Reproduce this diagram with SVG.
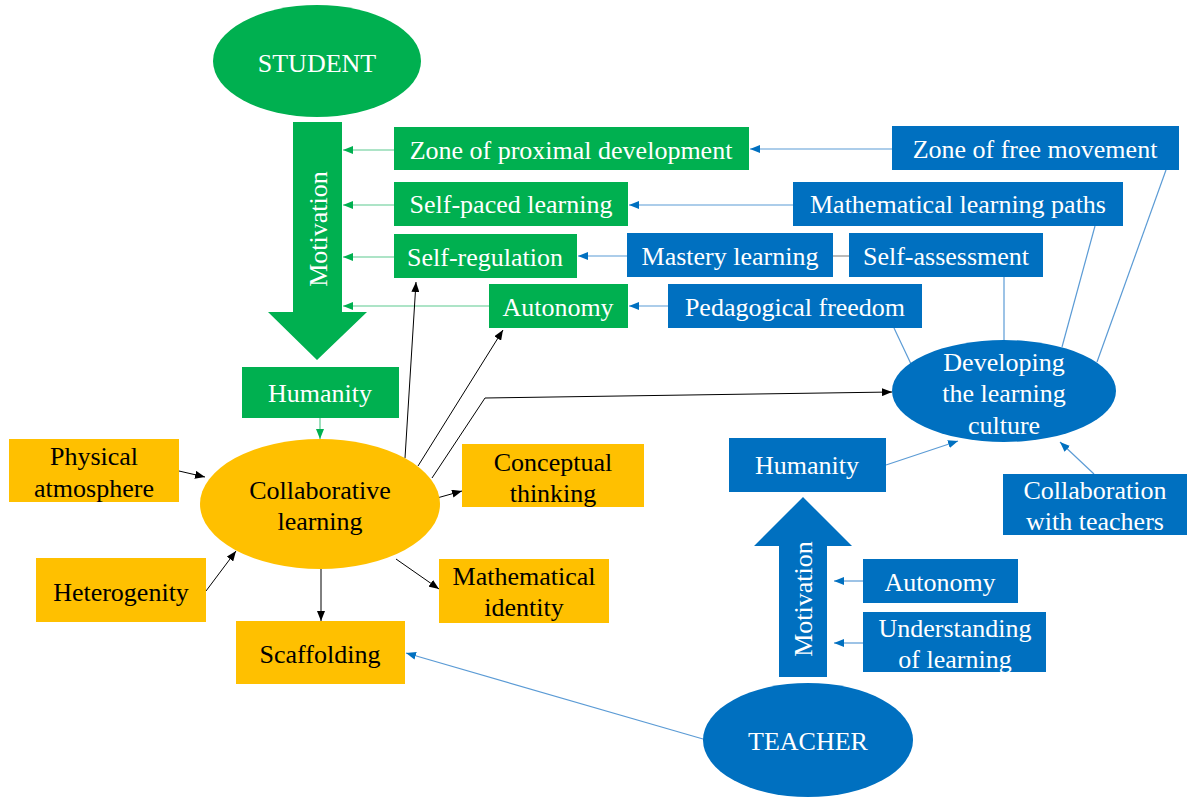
<svg xmlns="http://www.w3.org/2000/svg" width="1200" height="798" viewBox="0 0 1200 798">
<defs>
<style>
text{font-family:"Liberation Serif","Times New Roman",serif;font-size:26px;text-anchor:middle}
.w{fill:#fff}
.k{fill:#000}
.g{fill:#00b050}
.b{fill:#0070c0}
.o{fill:#ffc000}
.lk{stroke:#000;stroke-width:1;fill:none}
.lb{stroke:#5b9bd5;stroke-width:1.2;fill:none}
.lg{stroke:#5cc98f;stroke-width:1.2;fill:none}
.lgr{stroke:#8c8c8c;stroke-width:1.2;fill:none}
</style>
<marker id="ak" markerWidth="10" markerHeight="8" refX="10" refY="4" orient="auto" markerUnits="userSpaceOnUse"><path d="M0,0L10,4L0,8z" fill="#000"/></marker>
<marker id="ab" markerWidth="10" markerHeight="8" refX="10" refY="4" orient="auto" markerUnits="userSpaceOnUse"><path d="M0,0L10,4L0,8z" fill="#0070c0"/></marker>
<marker id="ag" markerWidth="10" markerHeight="8" refX="10" refY="4" orient="auto" markerUnits="userSpaceOnUse"><path d="M0,0L10,4L0,8z" fill="#00b050"/></marker>
</defs>
<rect width="1200" height="798" fill="#fff"/>

<g id="connectors">
<line class="lg" x1="394" y1="150" x2="343" y2="150" marker-end="url(#ag)"/>
<line class="lg" x1="394" y1="205" x2="343" y2="205" marker-end="url(#ag)"/>
<line class="lg" x1="394" y1="257" x2="343" y2="257" marker-end="url(#ag)"/>
<line class="lg" x1="489" y1="306" x2="343" y2="306" marker-end="url(#ag)"/>
<line class="lg" x1="320" y1="418" x2="320" y2="439" marker-end="url(#ag)"/>
<line class="lb" x1="892" y1="149" x2="750" y2="149" marker-end="url(#ab)"/>
<line class="lb" x1="793" y1="205" x2="629" y2="205" marker-end="url(#ab)"/>
<line class="lb" x1="627" y1="256" x2="578" y2="256" marker-end="url(#ab)"/>
<line class="lgr" x1="833" y1="256" x2="849" y2="256"/>
<line class="lb" x1="668" y1="306" x2="629" y2="306" marker-end="url(#ab)"/>
<line class="lb" x1="894" y1="328" x2="911" y2="364"/>
<line class="lb" x1="1004" y1="277" x2="1004" y2="341"/>
<line class="lb" x1="1095" y1="226" x2="1062" y2="347"/>
<line class="lb" x1="1166" y1="170" x2="1097" y2="362"/>
<line class="lb" x1="886" y1="465" x2="958" y2="441" marker-end="url(#ab)"/>
<line class="lb" x1="1094" y1="474" x2="1060" y2="442" marker-end="url(#ab)"/>
<line class="lb" x1="863" y1="581" x2="834" y2="581" marker-end="url(#ab)"/>
<line class="lb" x1="863" y1="643" x2="834" y2="643" marker-end="url(#ab)"/>
<line class="lb" x1="703" y1="739" x2="406" y2="653" marker-end="url(#ab)"/>
<line class="lk" x1="179" y1="471" x2="205" y2="477" marker-end="url(#ak)"/>
<line class="lk" x1="206" y1="591" x2="236" y2="551" marker-end="url(#ak)"/>
<line class="lk" x1="321" y1="569" x2="321" y2="621" marker-end="url(#ak)"/>
<line class="lk" x1="396" y1="559" x2="439" y2="589" marker-end="url(#ak)"/>
<line class="lk" x1="437" y1="498" x2="462" y2="491" marker-end="url(#ak)"/>
<line class="lk" x1="405" y1="458" x2="416" y2="282" marker-end="url(#ak)"/>
<line class="lk" x1="418" y1="466" x2="503" y2="330" marker-end="url(#ak)"/>
<polyline class="lk" points="432,478 485,398 892,392" marker-end="url(#ak)"/>
</g>

<g id="student"><ellipse class="g" cx="317" cy="61" rx="104" ry="56"/><text class="w" x="317" y="72">STUDENT</text></g>
<g id="student-arrow"><polygon class="g" points="293,122 342,122 342,312 367,312 317,360 268,312 293,312"/><text class="w" transform="translate(318,229) rotate(-90)" x="0" y="9">Motivation</text></g>
<g id="zpd"><rect class="g" x="394" y="127" width="355" height="43"/><text class="w" x="571" y="159">Zone of proximal development</text></g>
<g id="self-paced"><rect class="g" x="394" y="182" width="234" height="44"/><text class="w" x="511" y="213">Self-paced learning</text></g>
<g id="self-regulation"><rect class="g" x="394" y="234" width="183" height="44"/><text class="w" x="485" y="266">Self-regulation</text></g>
<g id="autonomy-s"><rect class="g" x="489" y="284" width="139" height="44"/><text class="w" x="558" y="316">Autonomy</text></g>
<g id="humanity-s"><rect class="g" x="242" y="367" width="157" height="51"/><text class="w" x="320" y="402">Humanity</text></g>

<g id="zfm"><rect class="b" x="892" y="126" width="287" height="44"/><text class="w" x="1035" y="158">Zone of free movement</text></g>
<g id="mlp"><rect class="b" x="793" y="182" width="330" height="44"/><text class="w" x="958" y="213">Mathematical learning paths</text></g>
<g id="mastery"><rect class="b" x="627" y="233" width="206" height="44"/><text class="w" x="730" y="265">Mastery learning</text></g>
<g id="self-assessment"><rect class="b" x="849" y="233" width="194" height="44"/><text class="w" x="946" y="265">Self-assessment</text></g>
<g id="pedagogical"><rect class="b" x="668" y="284" width="254" height="44"/><text class="w" x="795" y="316">Pedagogical freedom</text></g>
<g id="developing"><ellipse class="b" cx="1004" cy="391" rx="112" ry="51"/><text class="w" x="1004" y="371">Developing</text><text class="w" x="1004" y="402">the learning</text><text class="w" x="1004" y="434">culture</text></g>
<g id="humanity-t"><rect class="b" x="729" y="438" width="157" height="54"/><text class="w" x="807" y="474">Humanity</text></g>
<g id="collab-teachers"><rect class="b" x="1003" y="474" width="184" height="61"/><text class="w" x="1095" y="499">Collaboration</text><text class="w" x="1095" y="530">with teachers</text></g>
<g id="teacher-arrow"><polygon class="b" points="779,677 827,677 827,546 852,546 803,497 754,546 779,546"/><text class="w" transform="translate(803,599) rotate(-90)" x="0" y="9">Motivation</text></g>
<g id="autonomy-t"><rect class="b" x="863" y="559" width="155" height="44"/><text class="w" x="940" y="591">Autonomy</text></g>
<g id="understanding"><rect class="b" x="863" y="612" width="183" height="60"/><text class="w" x="955" y="637">Understanding</text><text class="w" x="955" y="668">of learning</text></g>
<g id="teacher"><ellipse class="b" cx="808" cy="740" rx="105" ry="57"/><text class="w" x="808" y="750">TEACHER</text></g>

<g id="collaborative"><ellipse class="o" cx="320" cy="504" rx="120" ry="65"/><text class="k" x="320" y="499">Collaborative</text><text class="k" x="320" y="530">learning</text></g>
<g id="physical"><rect class="o" x="9" y="439" width="170" height="63"/><text class="k" x="94" y="465">Physical</text><text class="k" x="94" y="497">atmosphere</text></g>
<g id="heterogenity"><rect class="o" x="36" y="558" width="170" height="64"/><text class="k" x="121" y="601">Heterogenity</text></g>
<g id="scaffolding"><rect class="o" x="236" y="621" width="169" height="63"/><text class="k" x="320" y="663">Scaffolding</text></g>
<g id="conceptual"><rect class="o" x="462" y="444" width="182" height="63"/><text class="k" x="553" y="471">Conceptual</text><text class="k" x="553" y="502">thinking</text></g>
<g id="identity"><rect class="o" x="439" y="559" width="170" height="64"/><text class="k" x="524" y="585">Mathematical</text><text class="k" x="524" y="616">identity</text></g>
</svg>
